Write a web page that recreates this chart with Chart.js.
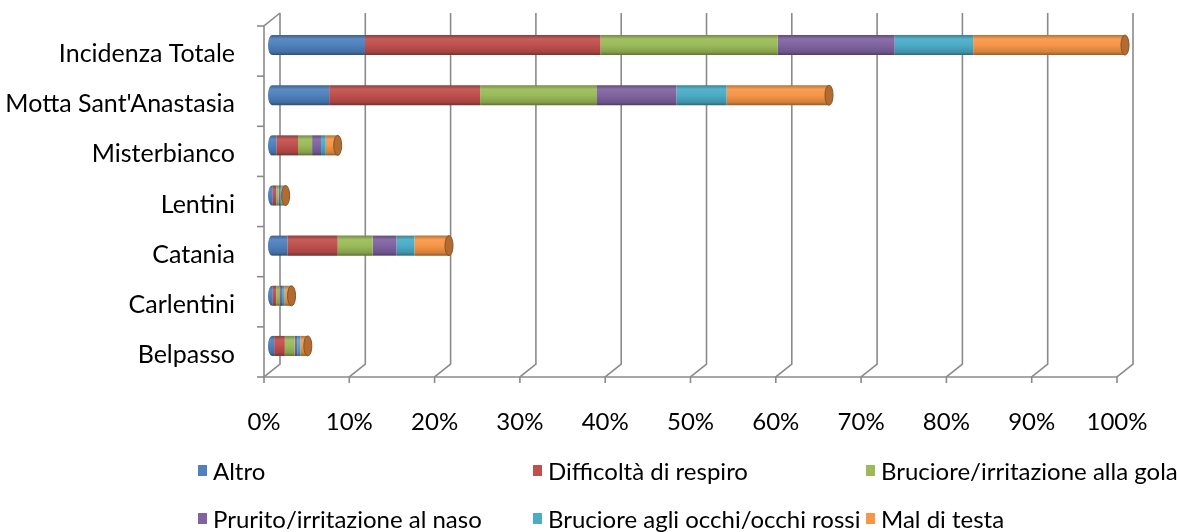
<!DOCTYPE html>
<html>
<head>
<meta charset="utf-8">
<script src="https://cdn.jsdelivr.net/npm/chart.js@4"></script>
<style>
  html, body { margin: 0; padding: 0; background: #ffffff; }
  #wrap { position: relative; width: 1179px; height: 532px; overflow: hidden; }
  #legend { position: absolute; left: 0; top: 0; width: 1179px; height: 532px; pointer-events: none;
            font-family: Lato, "Open Sans", sans-serif; font-size: 24px; color: #000; }
  .li { position: absolute; white-space: nowrap; height: 28px; line-height: 28px; }
  .box { position: absolute; left: 0; top: 8px; width: 9px; height: 11px; }
  .lt { position: absolute; left: 15px; top: 0; }
</style>
</head>
<body>
<div id="wrap">
  <canvas id="c" width="1179" height="532"></canvas>
  <div id="legend"></div>
</div>
<script>
// ---- data ----
const categories = ['Incidenza Totale', "Motta Sant'Anastasia", 'Misterbianco', 'Lentini', 'Catania', 'Carlentini', 'Belpasso'];
const seriesNames = ['Altro', 'Difficoltà di respiro', 'Bruciore/irritazione alla gola', 'Prurito/irritazione al naso', 'Bruciore agli occhi/occhi rossi', 'Mal di testa'];
const altro      = [10.9, 6.7, 0.5, 0.1, 1.8, 0.1, 0.25];
const difficolta = [27.6, 17.7, 2.55, 0.4, 5.9, 0.4, 1.25];
const gola       = [20.8, 13.7, 1.65, 0.3, 4.1, 0.4, 1.15];
const naso       = [13.7, 9.3, 1.05, 0.15, 2.8, 0.27, 0.3];
const occhi      = [9.2, 5.9, 0.55, 0.2, 2.1, 0.32, 0.4];
const testa      = [17.8, 12.0, 1.4, 0.45, 4.05, 0.8, 0.85];
const xTickValues = [0, 10, 20, 30, 40, 50, 60, 70, 80, 90, 100];

// ---- styles ----
const colors = ['#4F81BD', '#C0504D', '#9BBB59', '#8064A2', '#4BACC6', '#F79646'];
const FONT = 'Lato';
const BAR_PCT = 0.4;
const BACK = { dx: 8, dy: -7 };
const FRONT = { dx: -8, dy: 6 };
const GRID_COLOR = '#8a8a8a';

function shade(hex, f) {
  const n = parseInt(hex.slice(1), 16);
  let r = (n >> 16) & 255, g = (n >> 8) & 255, b = n & 255;
  const t = f < 0 ? 0 : 255, p = Math.abs(f);
  r = Math.round((t - r) * p + r); g = Math.round((t - g) * p + g); b = Math.round((t - b) * p + b);
  return `rgb(${r},${g},${b})`;
}

function cylGrad(chart, yc, h, base) {
  const g = chart.ctx.createLinearGradient(0, yc - h / 2, 0, yc + h / 2);
  g.addColorStop(0, shade(base, -0.25));
  g.addColorStop(0.2, shade(base, 0.08));
  g.addColorStop(0.5, base);
  g.addColorStop(0.85, shade(base, -0.15));
  g.addColorStop(1, shade(base, -0.4));
  return g;
}

function cylFill(base) {
  return (ctx) => {
    const chart = ctx.chart;
    const ys = chart.scales && chart.scales.y;
    if (!ys || ctx.type !== 'data' || !isFinite(ys.getPixelForValue(0))) return base;
    const yc = ys.getPixelForValue(ctx.dataIndex);
    const h = Math.abs(ys.getPixelForValue(1) - ys.getPixelForValue(0)) * BAR_PCT;
    return cylGrad(chart, yc, h, base);
  };
}

const seriesData = [altro, difficolta, gola, naso, occhi, testa];
const datasets = seriesData.map((d, i) => ({
  label: seriesNames[i],
  data: d,
  backgroundColor: cylFill(colors[i]),
  borderWidth: 0,
  barPercentage: BAR_PCT,
  categoryPercentage: 1.0
}));

const wallsPlugin = {
  id: 'walls',
  beforeDatasetsDraw(chart) {
    const { ctx, chartArea: a, scales: { x, y } } = chart;
    ctx.save();
    ctx.strokeStyle = GRID_COLOR;
    ctx.lineWidth = 1.6;
    ctx.lineCap = 'butt';
    xTickValues.forEach(v => {
      const px = x.getPixelForValue(v);
      ctx.beginPath();
      ctx.moveTo(px + BACK.dx, a.top + BACK.dy);
      ctx.lineTo(px + BACK.dx, a.bottom + BACK.dy);
      ctx.lineTo(px + FRONT.dx, a.bottom + FRONT.dy);
      ctx.lineTo(px + FRONT.dx, a.bottom + FRONT.dy + 6);
      ctx.stroke();
    });
    const lx = x.getPixelForValue(0);
    ctx.beginPath();
    ctx.moveTo(lx + BACK.dx, a.top + BACK.dy);
    ctx.lineTo(lx + FRONT.dx, a.top + FRONT.dy);
    ctx.lineTo(lx + FRONT.dx, a.bottom + FRONT.dy);
    ctx.lineTo(x.getPixelForValue(100) + FRONT.dx, a.bottom + FRONT.dy);
    ctx.stroke();
    const step = (a.bottom - a.top) / categories.length;
    for (let k = 0; k <= categories.length; k++) {
      const yy = a.top + k * step + FRONT.dy;
      ctx.beginPath();
      ctx.moveTo(lx + FRONT.dx - 7, yy);
      ctx.lineTo(lx + FRONT.dx, yy);
      ctx.stroke();
    }
    ctx.restore();
  },
  afterDatasetsDraw(chart) {
    const { ctx } = chart;
    const n = chart.data.datasets.length;
    const first = chart.getDatasetMeta(0).data;
    const last = chart.getDatasetMeta(n - 1).data;
    ctx.save();
    for (let i = 0; i < categories.length; i++) {
      const e0 = first[i], e1 = last[i];
      if (!e0 || !e1) continue;
      const h = e1.height;
      const rx = h * 0.2;
      ctx.beginPath();
      ctx.ellipse(e0.base, e0.y, rx, h / 2, 0, Math.PI / 2, Math.PI * 1.5);
      ctx.closePath();
      ctx.fillStyle = cylGrad(chart, e0.y, h, colors[0]);
      ctx.fill();
      ctx.beginPath();
      ctx.ellipse(e1.x, e1.y, rx, h / 2, 0, 0, Math.PI * 2);
      ctx.fillStyle = shade(colors[n - 1], -0.28);
      ctx.fill();
      ctx.strokeStyle = shade(colors[n - 1], -0.45);
      ctx.lineWidth = 1;
      ctx.stroke();
    }
    ctx.restore();
  }
};

new Chart(document.getElementById('c'), {
  type: 'bar',
  data: { labels: categories, datasets },
  options: {
    indexAxis: 'y',
    responsive: false,
    animation: false,
    devicePixelRatio: 1,
    layout: { padding: { left: 0, right: 54, top: 20, bottom: 0 } },
    plugins: { legend: { display: false }, tooltip: { enabled: false } },
    scales: {
      x: {
        stacked: true,
        min: 0, max: 100,
        grid: { display: false, drawTicks: false },
        border: { display: false },
        afterFit(s) { s.height = 161; s.paddingLeft = 0; s.paddingRight = 0; },
        afterBuildTicks(s) { s.ticks = xTickValues.map(v => ({ value: v })); },
        ticks: {
          color: '#000',
          font: { family: FONT, size: 24 },
          padding: 37,
          labelOffset: FRONT.dx,
          maxRotation: 0,
          autoSkip: false,
          callback: v => v + '%'
        }
      },
      y: {
        stacked: true,
        grid: { display: false, drawTicks: false },
        border: { display: false },
        afterFit(s) { s.width = 272; s.paddingTop = 0; s.paddingBottom = 0; },
        ticks: {
          color: '#000',
          font: { family: FONT, size: 25 },
          padding: 37,
          labelOffset: 9,
          autoSkip: false
        }
      }
    }
  },
  plugins: [wallsPlugin]
});

// ---- legend (HTML, built from the series names) ----
const legendCols = [198, 533, 866];
const legendRows = [457, 505];
const lg = document.getElementById('legend');
seriesNames.forEach((name, i) => {
  const item = document.createElement('div');
  item.className = 'li';
  item.style.left = legendCols[i % 3] + 'px';
  item.style.top = legendRows[Math.floor(i / 3)] + 'px';
  const box = document.createElement('span');
  box.className = 'box';
  box.style.background = colors[i];
  const t = document.createElement('span');
  t.className = 'lt';
  t.textContent = name;
  item.appendChild(box);
  item.appendChild(t);
  lg.appendChild(item);
});
</script>
</body>
</html>
